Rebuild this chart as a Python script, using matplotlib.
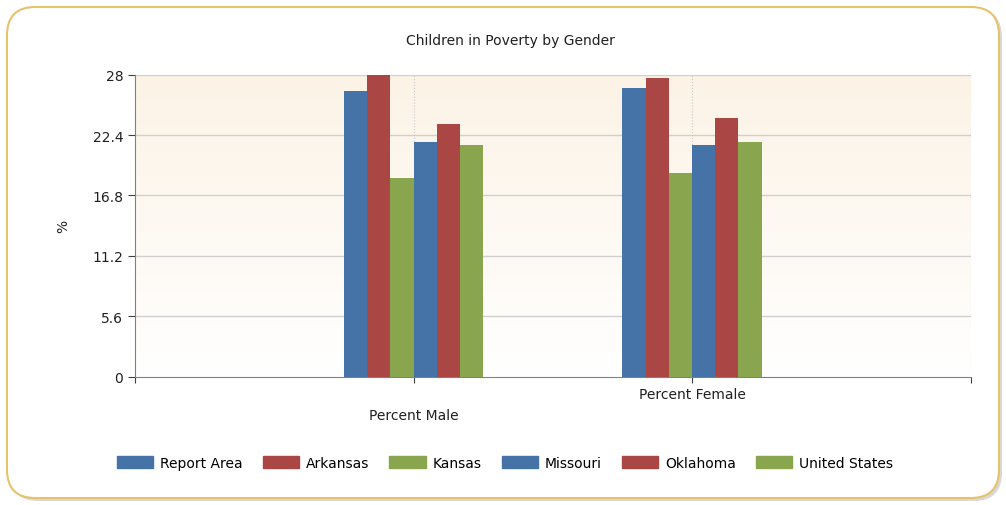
import numpy as np
import matplotlib
matplotlib.use("Agg")
from matplotlib import pyplot as plt
from matplotlib.patches import FancyBboxPatch
from matplotlib.colors import LinearSegmentedColormap

categories = ['Percent Male', 'Percent Female']
series = ['Report Area', 'Arkansas', 'Kansas', 'Missouri', 'Oklahoma', 'United States']
values = {
    'Report Area':   [26.5, 26.8],
    'Arkansas':      [28.0, 27.7],
    'Kansas':        [18.4, 18.9],
    'Missouri':      [21.8, 21.5],
    'Oklahoma':      [23.4, 24.0],
    'United States': [21.5, 21.8],
}
yticks = [0, 5.6, 11.2, 16.8, 22.4, 28]
ytick_labels = ['0', '5.6', '11.2', '16.8', '22.4', '28']

COLORS = ['#4572A7', '#AA4643', '#89A54E', '#4572A7', '#AA4643', '#89A54E']
FS = 10

plt.rcParams.update({'font.family': 'DejaVu Sans', 'font.size': FS})

fig = plt.figure(figsize=(10.06, 5.06), dpi=100)

# outer rounded frame with shadow
shadow = FancyBboxPatch((10 / 1006, 4 / 506), 992 / 1006, 492 / 506,
                        boxstyle="round,pad=0,rounding_size=0.028",
                        transform=fig.transFigure, facecolor='#d8d8d8',
                        edgecolor='none', zorder=-2, mutation_aspect=2)
fig.patches.append(shadow)
frame = FancyBboxPatch((7 / 1006, 7 / 506), 992 / 1006, 491 / 506,
                       boxstyle="round,pad=0,rounding_size=0.028",
                       transform=fig.transFigure, facecolor='white',
                       edgecolor='#E6C36A', linewidth=1.5, zorder=-1, mutation_aspect=2)
fig.patches.append(frame)

ax = fig.add_axes([135 / 1006, 128.5 / 506, 835.5 / 1006, 301.8 / 506])
ax.set_facecolor('none')
ax.set_xlim(0, 3)
ax.set_ylim(0, 28)

# cream to white gradient background
grad = LinearSegmentedColormap.from_list('bg', ['#FFFFFF', '#FCF3E6'])
ax.imshow(np.linspace(0, 1, 256).reshape(-1, 1), cmap=grad, aspect='auto',
          extent=[0, 3, 0, 28], origin='lower', zorder=0)

x = np.arange(1, len(categories) + 1)
w = 1 / 12
for i, s in enumerate(series):
    ax.bar(x + (i - 2.5) * w, values[s], w, color=COLORS[i], zorder=3)

# grid
for yv in yticks[1:]:
    ax.axhline(yv, color='#D0D0D0', linewidth=1, zorder=1)
for xv in [1, 2, 3]:
    ax.axvline(xv, color='#C8C8C8', linewidth=0.8, linestyle=':', zorder=1)

for spine in ['right', 'top']:
    ax.spines[spine].set_visible(False)
for spine in ['left', 'bottom']:
    ax.spines[spine].set_color('#808080')

ax.set_yticks(yticks, ytick_labels)
ax.set_xticks([0, 1, 2, 3], ['', '', '', ''])
ax.tick_params(axis='both', direction='out', length=5, color='#404040', colors='#202020')
ax.tick_params(axis='x', length=4)

# staggered category labels
ax.text(1, -3.6, categories[0], ha='center', va='center', fontsize=FS,
        color='#202020', clip_on=False)
ax.text(2, -1.65, categories[1], ha='center', va='center', fontsize=FS,
        color='#202020', clip_on=False)

ax.set_ylabel('%', fontsize=FS, labelpad=16, color='#202020')
fig.text(510 / 1006, 1 - 41 / 506, 'Children in Poverty by Gender', ha='center',
         va='center', fontsize=FS, color='#202020')

handles = [plt.Rectangle((0, 0), 1, 1, color=c) for c in COLORS]
fig.legend(handles, series, loc='center', bbox_to_anchor=(505 / 1006, 1 - 464 / 506),
           ncol=6, frameon=False, handlelength=2.6, handleheight=0.9,
           handletextpad=0.5, columnspacing=1.45, fontsize=FS)

fig.savefig('out.png', dpi=100)
